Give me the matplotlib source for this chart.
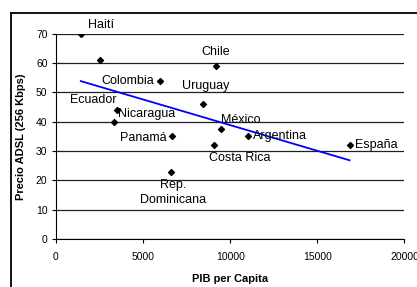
import numpy as np
import matplotlib
matplotlib.use("Agg")
import matplotlib.pyplot as plt
from matplotlib.lines import Line2D

plt.rcParams["font.family"] = ["Liberation Sans", "DejaVu Sans"]

countries = ["Haití", "", "Colombia", "Chile", "Uruguay", "Ecuador", "Nicaragua",
             "Panamá", "México", "Argentina", "Costa Rica", "España", "Rep.\nDominicana"]
pib = [1430, 2520, 5960, 9170, 8420, 3500, 3320, 6650, 9460, 11000, 9050, 16850, 6590]
precio = [70, 61, 54, 59, 46, 44, 40, 35, 37.5, 35, 32, 32, 23]

# label offsets in points (dx, dy, ha, va)
label_pos = {
    "Haití": (5, 2, "left", "bottom"),
    "Colombia": (-4, 0, "right", "center"),
    "Chile": (0, 6, "center", "bottom"),
    "Uruguay": (2, 9, "center", "bottom"),
    "Ecuador": (0, 3, "right", "bottom"),
    "Nicaragua": (3, 1, "left", "bottom"),
    "Panamá": (-4, -1, "right", "center"),
    "México": (0, 2, "left", "bottom"),
    "Argentina": (4, 0, "left", "center"),
    "Costa Rica": (-3, -5, "left", "top"),
    "España": (4, 0, "left", "center"),
    "Rep.\nDominicana": (2, -5, "center", "top"),
}

fig = plt.figure(figsize=(4.17, 2.87), dpi=100)
# outer chart frame (only left and top edges visible)
fig.lines.append(Line2D([10.5 / 417, 10.5 / 417], [0, 1 - 12.5 / 287],
                        transform=fig.transFigure, color="black", linewidth=1.3))
fig.lines.append(Line2D([10.5 / 417, 1], [1 - 12.5 / 287, 1 - 12.5 / 287],
                        transform=fig.transFigure, color="black", linewidth=1.3))
ax = fig.add_axes([0.134, 0.167, 0.836, 0.715])

ax.scatter(pib, precio, marker="D", s=9, color="black", zorder=3)

coef = np.polyfit(pib, precio, 1)
xs = np.array([min(pib), max(pib)])
ax.plot(xs, np.polyval(coef, xs), color="#0000ff", linewidth=1.3, zorder=2)

for name, x, y in zip(countries, pib, precio):
    if not name:
        continue
    dx, dy, ha, va = label_pos[name]
    ax.annotate(name, (x, y), xytext=(dx, dy), textcoords="offset points",
                ha=ha, va=va, fontsize=9, linespacing=1.4)

ax.set_xlim(0, 20000)
ax.set_ylim(0, 70)
ax.set_xticks([0, 5000, 10000, 15000, 20000])
ax.set_yticks(range(0, 71, 10))
ax.yaxis.grid(True, color="#202020", linewidth=0.9)
ax.set_axisbelow(True)
for s in ["top", "right"]:
    ax.spines[s].set_visible(False)
ax.tick_params(labelsize=7.5, length=3, width=0.8, pad=3)
ax.tick_params(axis="x", pad=6)
ax.set_xlabel("PIB per Capita", fontsize=8, fontweight="bold", labelpad=9)
ax.set_ylabel("Precio ADSL (256 Kbps)", fontsize=8, fontweight="bold", labelpad=7)

fig.savefig("out.png", dpi=100)
